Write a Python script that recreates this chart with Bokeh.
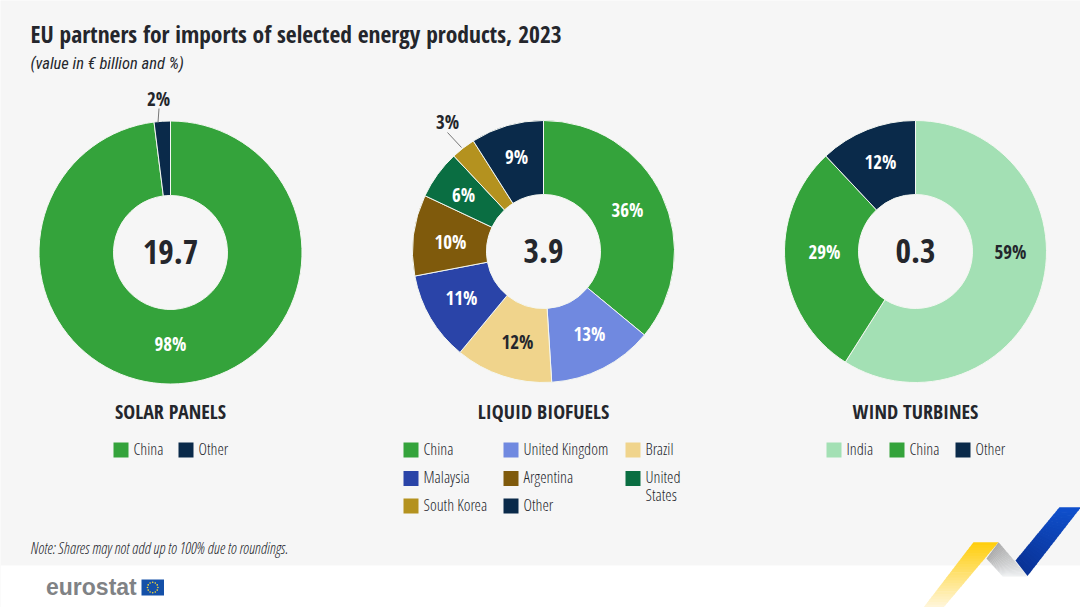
import math
from bokeh.plotting import figure
from bokeh.models import Range1d
from bokeh.core.properties import value
from bokeh.embed import file_html
from bokeh.resources import INLINE

# ---------- data ----------
solar_partners = ["China", "Other"]
solar_shares = [98, 2]
solar_total = "19.7"

biofuel_partners = ["China", "United Kingdom", "Brazil", "Malaysia", "Argentina",
                    "United States", "South Korea", "Other"]
biofuel_shares = [36, 13, 12, 11, 10, 6, 3, 9]
biofuel_total = "3.9"

wind_partners = ["India", "China", "Other"]
wind_shares = [59, 29, 12]
wind_total = "0.3"

TITLE = "EU partners for imports of selected energy products, 2023"
SUBTITLE = "(value in € billion and %)"
NOTE = "Note: Shares may not add up to 100% due to roundings."

# ---------- styles ----------
W, H = 1080, 607
BG = "#f6f6f6"
INK = "#24262c"
FONT = "Open Sans Condensed"
FONT_LIGHT = '"Open Sans Condensed Light", "Open Sans Condensed"'
COL = {"China": "#34a33b", "Other": "#0a2a4a", "United Kingdom": "#7089e0",
       "Brazil": "#f0d48c", "Malaysia": "#2a44a8", "Argentina": "#7f5a0c",
       "United States": "#0a6e42", "South Korea": "#b4921f", "India": "#a3e0b4"}


def Y(py):
    return H - py


p = figure(width=W, height=H, output_backend="svg", toolbar_location=None,
           x_range=Range1d(0, W), y_range=Range1d(0, H),
           x_axis_location=None, y_axis_location=None, min_border=0,
           background_fill_color=BG, border_fill_color=BG, outline_line_color=None)
p.grid.visible = False


def txt(x, y, s, size, color=INK, bold=False, italic=False, align="left", font=FONT):
    style = "bold" if bold and not italic else ("italic" if italic else "normal")
    p.text([x], [Y(y - 1)], text=[s], text_font=value(font), text_font_size=f"{size}px",
           text_color=color, text_font_style=style, text_align=align,
           text_baseline="middle")


def donut(cx, cy, r_out, r_in, partners, shares, total, label_pos, label_cols):
    total_share = sum(shares)
    cum = 0
    for name, share in zip(partners, shares):
        a0 = math.pi / 2 - 2 * math.pi * cum / total_share
        cum += share
        a1 = math.pi / 2 - 2 * math.pi * cum / total_share
        p.annular_wedge([cx], [Y(cy)], inner_radius=r_in, outer_radius=r_out,
                        start_angle=a1, end_angle=a0, fill_color=COL[name],
                        line_color="#f4f7f2", line_width=1)
    for share, (lx, ly), c in zip(shares, label_pos, label_cols):
        txt(lx, ly, f"{share}%", 19, color=c, bold=True, align="center")
    txt(cx, cy, total, 33.5, bold=True, align="center")


WHITE = "#ffffff"
donut(170, 252, 131.5, 57, solar_partners, solar_shares, solar_total,
      [(170, 344), (158, 99)], [WHITE, INK])
donut(543, 251, 131, 57, biofuel_partners, biofuel_shares, biofuel_total,
      [(627, 210), (589, 334), (517, 342), (461, 298), (450, 242), (463, 195), (447, 122), (516, 157)],
      [WHITE, WHITE, INK, WHITE, WHITE, WHITE, INK, WHITE])
donut(915, 251, 131, 57, wind_partners, wind_shares, wind_total,
      [(1010, 252), (824, 252), (880, 162)], [INK, WHITE, WHITE])

# leader lines
p.line([158.5, 157.5], [Y(108), Y(122)], line_color="#777777", line_width=1)
p.line([447, 461], [Y(132), Y(147)], line_color="#777777", line_width=1)

# titles
txt(30, 34, TITLE, 23.5, bold=True)
txt(30, 64, SUBTITLE, 16.5, italic=True, font="Roboto Condensed", color=INK)
txt(170, 412, "SOLAR PANELS", 20, bold=True, align="center")
txt(543, 412, "LIQUID BIOFUELS", 20, bold=True, align="center")
txt(915, 412, "WIND TURBINES", 20, bold=True, align="center")


def legend(items):
    for name, sx, sy, lines in items:
        p.rect([sx + 7.5], [Y(sy)], width=15, height=15, fill_color=COL[name], line_color=None)
        for i, line in enumerate(lines):
            txt(sx + 20, sy + i * 18 - 0.5, line, 16.3, color=INK, font=FONT_LIGHT)


legend([("China", 113, 449.5, ["China"]), ("Other", 178, 449.5, ["Other"])])
legend([("China", 403, 449.5, ["China"]), ("United Kingdom", 503, 449.5, ["United Kingdom"]),
        ("Brazil", 625, 449.5, ["Brazil"]), ("Malaysia", 403, 478, ["Malaysia"]),
        ("Argentina", 503, 478, ["Argentina"]), ("United States", 625, 478, ["United", "States"]),
        ("South Korea", 403, 505.5, ["South Korea"]), ("Other", 503, 505.5, ["Other"])])
legend([("India", 826, 449.5, ["India"]), ("China", 889, 449.5, ["China"]), ("Other", 955, 449.5, ["Other"])])

# note
txt(30, 548, NOTE, 15.6, italic=True, font=FONT_LIGHT, color=INK)

# white footer band
p.quad(left=[0], right=[W], bottom=[Y(H)], top=[Y(565)], fill_color="#ffffff", line_color=None)

# eurostat logo
p.text([45.5], [Y(586)], text=["eurostat"], text_font=value("Liberation Sans"), text_font_size="23px",
       text_font_style="bold", text_color="#808285", text_baseline="middle")
p.quad(left=[141], right=[163.5], bottom=[Y(595)], top=[Y(579)], fill_color="#1450a8", line_color=None)
star_x = [152.2 + 5.2 * math.cos(i * math.pi / 6) for i in range(12)]
star_y = [Y(587) + 5.2 * math.sin(i * math.pi / 6) for i in range(12)]
p.scatter(star_x, star_y, marker="circle", size=1.6, fill_color="#ffdd33", line_color=None)


# ribbon (gradient bands)
def mix(c0, c1, t):
    return "#" + "".join(f"{round(a + (b - a) * t):02x}" for a, b in zip(c0, c1))


def band(pa, pb, pc, pd, c0, c1, n=24):
    """quad pa-pb at start, pd-pc at end, blended along the length"""
    for i in range(n):
        t0, t1 = i / n, (i + 1) / n
        pt = lambda u, v, t: (u[0] + (v[0] - u[0]) * t, u[1] + (v[1] - u[1]) * t)
        q = [pt(pa, pd, t0), pt(pb, pc, t0), pt(pb, pc, t1 + 0.01), pt(pa, pd, t1 + 0.01)]
        p.patch([a for a, _ in q], [Y(b) for _, b in q], fill_color=mix(c0, c1, (t0 + t1) / 2), line_color=None)


band((973, 541.7), (998, 541.7), (943, 607), (923, 607), (255, 205, 10), (255, 246, 220))
band((998, 541.7), (986, 558), (1002, 575.7), (1027, 575.7), (170, 170, 170), (238, 240, 242))
band((1027, 575.5), (1015, 560), (1058.5, 507.3), (1080, 507.3), (10, 50, 150), (15, 80, 205))

open("out.html", "w").write(file_html(p, INLINE))
